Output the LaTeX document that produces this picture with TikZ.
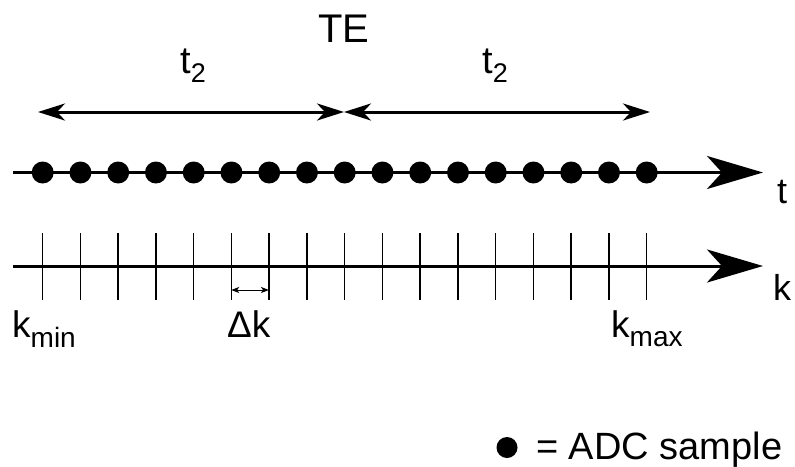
\documentclass[tikz,border=0pt]{standalone}
\usepackage{fontspec}
\setmainfont{Liberation Sans}
\usetikzlibrary{arrows.meta}
\newcommand{\fs}[1]{\fontsize{#1}{#1}\selectfont}
\begin{document}
\begin{tikzpicture}[x=1pt,y=-1pt,
  axis/.style={line width=3pt,-{Stealth[length=56pt,width=33pt,inset=15pt]}},
  span/.style={line width=3pt,{Stealth[length=27pt,width=17pt,inset=8pt]}-{Stealth[length=27pt,width=17pt,inset=8pt]}},
  tickline/.style={line width=1.5pt},
  dot/.style={circle,fill=black,inner sep=0pt,minimum size=22pt},
  lbl/.style={inner sep=0pt,font=\fs{36}},
  small/.style={line width=1pt,{Stealth[length=8pt,width=6pt,inset=2pt]}-{Stealth[length=8pt,width=6pt,inset=2pt]}}
]
\useasboundingbox (0,0) rectangle (795,466);
% axes
\coordinate (ts) at (13,172.5);
\coordinate (te) at (763,172.5);
\coordinate (ks) at (13,266);
\coordinate (ke) at (763,266);
% ticks
\foreach \i in {0,...,16}{
  \coordinate (tkt\i) at ({42.7+37.75*\i},233);
  \coordinate (tkb\i) at ({42.7+37.75*\i},300);
  \draw[tickline] (tkt\i) -- (tkb\i);
}
\draw[axis] (ks) -- (ke);
\draw[axis] (ts) -- (te);
\foreach \i in {0,...,16}{
  \node[dot] (d\i) at ({42.7+37.75*\i},172.5) {};
}
% top spans
\coordinate (a1) at (38,112);
\coordinate (a2) at (344,112);
\coordinate (a3) at (650,112);
\draw[span] (a1) -- (a2);
\draw[span] (a2) -- (a3);
% delta k arrow
\coordinate (dk1) at (231.2,290);
\coordinate (dk2) at (268.95,290);
\draw[small] (dk1) -- (dk2);
% labels
\node[lbl,font=\fs{40},anchor=base] (TE) at (344,42) {TE};
\node[lbl,anchor=base] (t2a) at (193,73) {\fs{38}t\raisebox{-9pt}{\fs{27}2}};
\node[lbl,anchor=base] (t2b) at (495,73) {\fs{38}t\raisebox{-9pt}{\fs{27}2}};
\node[lbl,anchor=base west] (tl) at (777,203) {t};
\node[lbl,anchor=base west] (kl) at (773,300) {k};
\node[lbl,font=\fs{37},anchor=base west] (kmin) at (12,337) {k\raisebox{-10pt}{\fs{28}min}};
\node[lbl,font=\fs{37},anchor=base west] (dk) at (227,337) {Δk};
\node[lbl,font=\fs{37},anchor=base west] (kmax) at (611,337) {k\raisebox{-9pt}{\fs{28}max}};
% legend
\node[dot,minimum size=21pt] (ld) at (507,447.5) {};
\node[lbl,font=\fs{38},anchor=base west] (leg) at (536,459) {= ADC sample};
\end{tikzpicture}
\end{document}
